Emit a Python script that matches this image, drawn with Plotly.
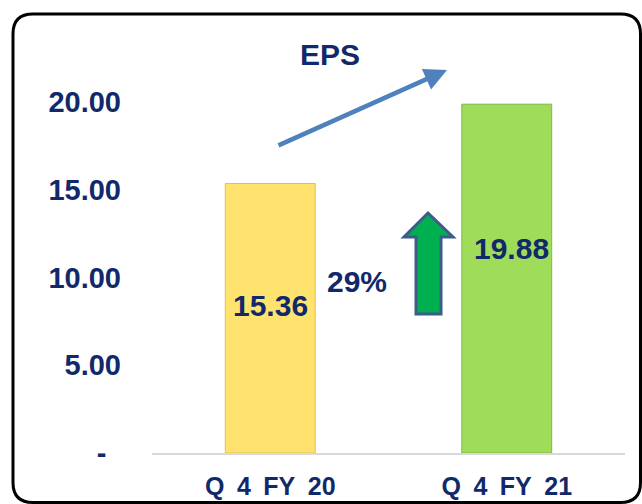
import plotly.graph_objects as go

# ---- data ----
categories = ["Q\u20024\u2002FY\u200220", "Q\u20024\u2002FY\u200221"]
eps_values = [15.36, 19.88]
value_labels = ["15.36", "19.88"]
growth_label = "29%"
tick_vals = [0, 5, 10, 15, 20]
tick_text = ["-\u2002", "5.00", "10.00", "15.00", "20.00"]
bar_colors = ["#FFE36E", "#9FDC5A"]
bar_edges = ["#E2C04A", "#7FB93E"]

NAVY = "#11296B"
FONT = "Liberation Sans, Arial, sans-serif"

W, H = 642, 504
L, R, T, B = 152, 17, 67, 51
PW, PH = W - L - R, H - T - B


def px(x):
    return (x - L) / PW


def py(y):
    return (H - B - y) / PH


fig = go.Figure()
fig.add_trace(go.Bar(
    x=categories, y=eps_values, width=0.38,
    marker=dict(color=bar_colors, line=dict(color=bar_edges, width=1)),
    hoverinfo="skip",
))

# rounded border
x0, x1, y0, y1, r = 13, 640.5, 14, 502.5, 20
path = (f"M {px(x0+r)},{py(y0)} L {px(x1-r)},{py(y0)} Q {px(x1)},{py(y0)} {px(x1)},{py(y0+r)} "
        f"L {px(x1)},{py(y1-r)} Q {px(x1)},{py(y1)} {px(x1-r)},{py(y1)} "
        f"L {px(x0+r)},{py(y1)} Q {px(x0)},{py(y1)} {px(x0)},{py(y1-r)} "
        f"L {px(x0)},{py(y0+r)} Q {px(x0)},{py(y0)} {px(x0+r)},{py(y0)} Z")
shapes = [dict(type="path", xref="paper", yref="paper", path=path,
               line=dict(color="black", width=3), layer="above")]

# green block arrow
pts = [(428, 213), (453, 237), (441, 237), (441, 314), (416, 314), (416, 237), (404, 237)]
arrow_path = "M " + " L ".join(f"{px(a)},{py(b)}" for a, b in pts) + " Z"
shapes.append(dict(type="path", xref="paper", yref="paper", path=arrow_path,
                   fillcolor="#00B050", line=dict(color="#3D5C8C", width=3)))

annotations = [
    dict(x=categories[0], y=8.38, xref="x", yref="y", text=value_labels[0], showarrow=False,
         font=dict(family=FONT, size=30, color=NAVY, weight="bold")),
    dict(x=categories[1], y=11.63, xref="x", yref="y", text=value_labels[1], showarrow=False,
         xshift=5, font=dict(family=FONT, size=30, color=NAVY, weight="bold")),
    dict(x=px(356.5), y=py(281), xref="paper", yref="paper", text=growth_label, showarrow=False,
         font=dict(family=FONT, size=30, color=NAVY, weight="bold")),
    dict(x=px(447), y=py(70), xref="paper", yref="paper", text="", showarrow=True,
         ax=-170, ay=76, arrowhead=2, arrowsize=1, arrowwidth=4.5, arrowcolor="#4F81BD"),
]

fig.update_layout(
    width=W, height=H,
    margin=dict(l=L, r=R, t=T, b=B, autoexpand=False),
    paper_bgcolor="white", plot_bgcolor="white",
    showlegend=False,
    title=dict(text="EPS", x=330 / W, xref="container", xanchor="center",
               y=1 - 54 / H, yanchor="middle",
               font=dict(family=FONT, size=30, color=NAVY, weight="bold")),
    shapes=shapes,
    annotations=annotations,
)
fig.update_xaxes(
    type="category", range=[-0.5, 1.5], showline=True, linecolor="#D9D9D9", linewidth=2,
    showgrid=False, ticks="", ticklabelstandoff=10, automargin=False,
    tickfont=dict(family=FONT, size=25, color=NAVY, weight="bold"),
)
fig.update_yaxes(
    range=[0, 22], showgrid=False, zeroline=False, showline=False, ticks="",
    tickvals=tick_vals, ticktext=tick_text, ticklabelstandoff=30, automargin=False,
    tickfont=dict(family=FONT, size=29, color=NAVY, weight="bold"),
)

fig.write_html("out.html", config={"displayModeBar": False},
               post_script="document.body.style.margin='0px';")
